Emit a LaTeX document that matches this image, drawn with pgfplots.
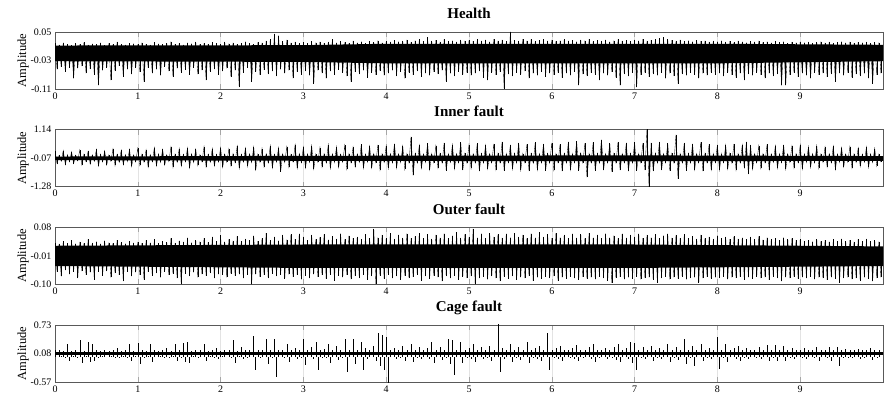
\documentclass[border=0pt]{standalone}
\usepackage{fontspec}
\setmainfont{Liberation Serif}
\usepackage{pgfplots}
\usepackage{pgfplotstable}
\pgfplotsset{compat=1.18}

\pgfplotstableread[header=false,row sep=\\]{
0.018\\-0.055\\0.014\\-0.048\\0.02\\-0.062\\0.016\\-0.05\\0.013\\-0.08\\0.019\\-0.052\\0.015\\-0.046\\0.021\\-0.066\\0.014\\-0.054\\0.017\\-0.07\\0.016\\-0.1\\0.02\\-0.058\\0.013\\-0.05\\0.018\\-0.085\\0.015\\-0.06\\0.022\\-0.045\\0.016\\-0.075\\0.014\\-0.055\\0.019\\-0.068\\0.017\\-0.05\\
0.015\\-0.062\\0.02\\-0.09\\0.016\\-0.05\\0.014\\-0.066\\0.021\\-0.055\\0.017\\-0.072\\0.015\\-0.048\\0.019\\-0.06\\0.023\\-0.075\\0.016\\-0.052\\0.018\\-0.064\\0.014\\-0.056\\0.02\\-0.07\\0.017\\-0.05\\0.022\\-0.068\\0.015\\-0.058\\0.019\\-0.085\\0.016\\-0.062\\0.021\\-0.054\\0.018\\-0.07\\
0.016\\-0.06\\0.022\\-0.052\\0.017\\-0.075\\0.02\\-0.058\\0.015\\-0.105\\0.019\\-0.064\\0.023\\-0.05\\0.018\\-0.09\\0.016\\-0.062\\0.021\\-0.07\\0.02\\-0.056\\0.025\\-0.068\\0.03\\-0.06\\0.045\\-0.074\\0.04\\-0.055\\0.024\\-0.066\\0.028\\-0.058\\0.02\\-0.08\\0.022\\-0.062\\0.019\\-0.07\\
0.021\\-0.06\\0.018\\-0.072\\0.024\\-0.095\\0.02\\-0.058\\0.023\\-0.066\\0.019\\-0.08\\0.022\\-0.06\\0.03\\-0.07\\0.02\\-0.056\\0.024\\-0.064\\0.021\\-0.074\\0.018\\-0.09\\0.025\\-0.062\\0.02\\-0.068\\0.023\\-0.058\\0.019\\-0.078\\0.024\\-0.064\\0.021\\-0.07\\0.026\\-0.06\\0.02\\-0.072\\
0.024\\-0.066\\0.022\\-0.058\\0.027\\-0.074\\0.023\\-0.062\\0.025\\-0.08\\0.028\\-0.064\\0.022\\-0.07\\0.026\\-0.06\\0.03\\-0.076\\0.024\\-0.066\\0.035\\-0.072\\0.025\\-0.062\\0.027\\-0.068\\0.023\\-0.058\\0.029\\-0.09\\0.024\\-0.066\\0.026\\-0.074\\0.022\\-0.062\\0.028\\-0.07\\0.025\\-0.064\\
0.027\\-0.072\\0.024\\-0.066\\0.029\\-0.06\\0.025\\-0.078\\0.028\\-0.085\\0.023\\-0.064\\0.03\\-0.07\\0.026\\-0.062\\0.028\\-0.11\\0.024\\-0.068\\0.05\\-0.074\\0.027\\-0.064\\0.025\\-0.07\\0.03\\-0.06\\0.026\\-0.08\\0.029\\-0.066\\0.024\\-0.072\\0.027\\-0.062\\0.03\\-0.076\\0.025\\-0.066\\
0.028\\-0.07\\0.024\\-0.064\\0.026\\-0.078\\0.029\\-0.066\\0.025\\-0.072\\0.027\\-0.062\\0.023\\-0.1\\0.028\\-0.068\\0.026\\-0.074\\0.03\\-0.064\\0.024\\-0.07\\0.027\\-0.085\\0.025\\-0.066\\0.028\\-0.072\\0.023\\-0.062\\0.026\\-0.078\\0.029\\-0.1\\0.025\\-0.068\\0.027\\-0.074\\0.024\\-0.064\\
0.028\\-0.105\\0.026\\-0.07\\0.03\\-0.064\\0.025\\-0.076\\0.027\\-0.068\\0.029\\-0.072\\0.032\\-0.064\\0.035\\-0.08\\0.03\\-0.066\\0.027\\-0.074\\0.025\\-0.095\\0.028\\-0.068\\0.024\\-0.072\\0.026\\-0.064\\0.023\\-0.07\\0.027\\-0.08\\0.024\\-0.066\\0.026\\-0.072\\0.022\\-0.064\\0.025\\-0.07\\
0.023\\-0.066\\0.026\\-0.074\\0.022\\-0.064\\0.024\\-0.07\\0.021\\-0.078\\0.025\\-0.066\\0.023\\-0.085\\0.02\\-0.068\\0.024\\-0.072\\0.022\\-0.064\\0.025\\-0.07\\0.021\\-0.08\\0.023\\-0.066\\0.02\\-0.074\\0.024\\-0.068\\0.021\\-0.1\\0.023\\-0.1\\0.019\\-0.07\\0.022\\-0.064\\0.02\\-0.076\\
0.023\\-0.066\\0.02\\-0.072\\0.022\\-0.08\\0.019\\-0.064\\0.021\\-0.07\\0.023\\-0.066\\0.02\\-0.076\\0.022\\-0.068\\0.019\\-0.09\\0.021\\-0.066\\0.023\\-0.072\\0.02\\-0.064\\0.022\\-0.078\\0.019\\-0.068\\0.021\\-0.074\\0.02\\-0.066\\0.022\\-0.08\\0.019\\-0.095\\0.021\\-0.07\\0.02\\-0.066\\
}\health

\pgfplotstableread[header=false,row sep=\\]{
0.22\\-0.3\\0.05\\-0.2\\0.25\\-0.34\\0.08\\-0.22\\0.2\\-0.3\\0.06\\-0.18\\0.28\\-0.36\\0.1\\-0.22\\0.22\\-0.32\\0.07\\-0.2\\0.3\\-0.4\\0.09\\-0.23\\0.24\\-0.35\\0.06\\-0.2\\0.32\\-0.38\\0.1\\-0.24\\0.26\\-0.34\\0.08\\-0.21\\0.3\\-0.42\\0.07\\-0.22\\
0.35\\-0.38\\0.1\\-0.24\\0.28\\-0.45\\0.08\\-0.22\\0.38\\-0.4\\0.11\\-0.25\\0.3\\-0.36\\0.07\\-0.21\\0.4\\-0.46\\0.1\\-0.24\\0.33\\-0.4\\0.09\\-0.22\\0.36\\-0.48\\0.11\\-0.25\\0.3\\-0.38\\0.08\\-0.22\\0.42\\-0.44\\0.1\\-0.24\\0.34\\-0.4\\0.09\\-0.23\\
0.38\\-0.46\\0.1\\-0.24\\0.32\\-0.4\\0.12\\-0.26\\0.44\\-0.5\\0.09\\-0.23\\0.36\\-0.42\\0.11\\-0.25\\0.4\\-0.55\\0.1\\-0.24\\0.34\\-0.44\\0.12\\-0.26\\0.46\\-0.48\\0.1\\-0.24\\0.38\\-0.65\\0.11\\-0.25\\0.42\\-0.46\\0.09\\-0.23\\0.5\\-0.5\\0.12\\-0.26\\
0.4\\-0.48\\0.11\\-0.25\\0.46\\-0.52\\0.1\\-0.24\\0.38\\-0.44\\0.12\\-0.26\\0.5\\-0.5\\0.11\\-0.25\\0.42\\-0.46\\0.1\\-0.24\\0.48\\-0.54\\0.12\\-0.26\\0.4\\-0.44\\0.11\\-0.25\\0.52\\-0.5\\0.1\\-0.24\\0.44\\-0.48\\0.12\\-0.26\\0.5\\-0.56\\0.11\\-0.25\\
0.46\\-0.5\\0.12\\-0.26\\0.55\\-0.48\\0.11\\-0.25\\0.44\\-0.54\\0.12\\-0.26\\0.85\\-0.8\\0.13\\-0.27\\0.48\\-0.5\\0.11\\-0.25\\0.56\\-0.56\\0.12\\-0.26\\0.46\\-0.48\\0.13\\-0.27\\0.58\\-0.6\\0.11\\-0.25\\0.5\\-0.52\\0.12\\-0.26\\0.6\\-0.58\\0.13\\-0.27\\
0.5\\-0.5\\0.12\\-0.26\\0.56\\-0.62\\0.13\\-0.27\\0.48\\-0.52\\0.12\\-0.26\\0.54\\-0.56\\0.13\\-0.27\\0.62\\-0.6\\0.12\\-0.26\\0.5\\-0.54\\0.13\\-0.27\\0.58\\-0.58\\0.12\\-0.26\\0.52\\-0.62\\0.13\\-0.27\\0.6\\-0.56\\0.12\\-0.26\\0.54\\-0.6\\0.13\\-0.27\\
0.58\\-0.58\\0.12\\-0.26\\0.52\\-0.62\\0.13\\-0.27\\0.62\\-0.56\\0.12\\-0.26\\0.64\\-0.6\\0.13\\-0.27\\0.56\\-0.88\\0.12\\-0.26\\0.6\\-0.6\\0.13\\-0.27\\0.72\\-0.58\\0.12\\-0.26\\0.56\\-0.64\\0.13\\-0.27\\0.62\\-0.58\\0.12\\-0.26\\0.58\\-0.62\\0.13\\-0.27\\
0.6\\-0.6\\0.12\\-0.26\\0.56\\-0.58\\1.2\\-1.35\\0.58\\-0.62\\0.13\\-0.27\\0.62\\-0.58\\0.12\\-0.26\\0.56\\-0.6\\0.13\\-0.27\\0.93\\-0.95\\0.12\\-0.26\\0.58\\-0.6\\0.13\\-0.27\\0.54\\-0.56\\0.12\\-0.26\\0.6\\-0.62\\0.13\\-0.27\\0.52\\-0.56\\0.12\\-0.26\\
0.5\\-0.58\\0.12\\-0.26\\0.48\\-0.52\\0.13\\-0.27\\0.54\\-0.56\\0.12\\-0.26\\0.48\\-0.5\\0.62\\-0.75\\0.5\\-0.54\\0.12\\-0.26\\0.46\\-0.5\\0.12\\-0.26\\0.52\\-0.56\\0.11\\-0.25\\0.46\\-0.5\\0.12\\-0.26\\0.5\\-0.54\\0.11\\-0.25\\0.44\\-0.48\\0.12\\-0.26\\
0.48\\-0.52\\0.11\\-0.25\\0.42\\-0.46\\0.12\\-0.26\\0.46\\-0.5\\0.11\\-0.25\\0.4\\-0.44\\0.12\\-0.26\\0.44\\-0.55\\0.11\\-0.25\\0.38\\-0.44\\0.1\\-0.24\\0.42\\-0.48\\0.11\\-0.25\\0.36\\-0.42\\0.1\\-0.24\\0.4\\-0.46\\0.11\\-0.25\\0.34\\-0.4\\0.1\\-0.24\\
}\inner

\pgfplotstableread[header=false,row sep=\\]{
0.032\\-0.06\\0.028\\-0.075\\0.036\\-0.055\\0.03\\-0.068\\0.04\\-0.06\\0.029\\-0.08\\0.034\\-0.058\\0.03\\-0.07\\0.042\\-0.062\\0.031\\-0.085\\0.035\\-0.06\\0.029\\-0.072\\0.038\\-0.058\\0.032\\-0.078\\0.03\\-0.064\\0.04\\-0.07\\0.033\\-0.09\\0.029\\-0.06\\0.037\\-0.074\\0.031\\-0.062\\
0.034\\-0.07\\0.03\\-0.085\\0.039\\-0.06\\0.032\\-0.072\\0.042\\-0.064\\0.03\\-0.078\\0.036\\-0.06\\0.033\\-0.07\\0.045\\-0.066\\0.031\\-0.08\\0.038\\-0.1\\0.034\\-0.066\\0.048\\-0.074\\0.032\\-0.062\\0.04\\-0.078\\0.035\\-0.068\\0.046\\-0.072\\0.033\\-0.064\\0.05\\-0.08\\0.036\\-0.068\\
0.055\\-0.07\\0.035\\-0.078\\0.042\\-0.066\\0.038\\-0.072\\0.052\\-0.068\\0.036\\-0.08\\0.044\\-0.07\\0.04\\-0.1\\0.054\\-0.068\\0.037\\-0.076\\0.045\\-0.07\\0.062\\-0.08\\0.04\\-0.066\\0.05\\-0.074\\0.038\\-0.07\\0.056\\-0.082\\0.041\\-0.068\\0.058\\-0.076\\0.043\\-0.07\\0.06\\-0.084\\
0.05\\-0.072\\0.04\\-0.08\\0.056\\-0.068\\0.042\\-0.076\\0.05\\-0.07\\0.058\\-0.082\\0.041\\-0.07\\0.052\\-0.088\\0.044\\-0.072\\0.06\\-0.078\\0.042\\-0.07\\0.054\\-0.084\\0.046\\-0.072\\0.05\\-0.08\\0.043\\-0.07\\0.058\\-0.086\\0.045\\-0.074\\0.075\\-0.098\\0.048\\-0.072\\0.056\\-0.082\\
0.046\\-0.07\\0.062\\-0.08\\0.044\\-0.074\\0.056\\-0.086\\0.047\\-0.072\\0.06\\-0.08\\0.045\\-0.076\\0.052\\-0.07\\0.062\\-0.088\\0.046\\-0.074\\0.058\\-0.082\\0.044\\-0.072\\0.056\\-0.078\\0.048\\-0.09\\0.06\\-0.074\\0.046\\-0.08\\0.054\\-0.072\\0.064\\-0.086\\0.047\\-0.076\\0.058\\-0.08\\
0.05\\-0.074\\0.075\\-0.1\\0.048\\-0.08\\0.06\\-0.076\\0.046\\-0.084\\0.062\\-0.074\\0.05\\-0.08\\0.058\\-0.09\\0.047\\-0.076\\0.06\\-0.082\\0.048\\-0.074\\0.062\\-0.086\\0.05\\-0.078\\0.056\\-0.08\\0.046\\-0.074\\0.06\\-0.088\\0.048\\-0.078\\0.064\\-0.082\\0.05\\-0.076\\0.058\\-0.08\\
0.046\\-0.074\\0.062\\-0.088\\0.048\\-0.078\\0.056\\-0.082\\0.045\\-0.076\\0.06\\-0.08\\0.047\\-0.086\\0.058\\-0.076\\0.045\\-0.082\\0.062\\-0.078\\0.048\\-0.084\\0.056\\-0.076\\0.046\\-0.08\\0.06\\-0.088\\0.048\\-0.095\\0.054\\-0.08\\0.045\\-0.076\\0.06\\-0.084\\0.047\\-0.078\\0.056\\-0.082\\
0.05\\-0.076\\0.06\\-0.084\\0.046\\-0.08\\0.056\\-0.078\\0.048\\-0.086\\0.058\\-0.095\\0.046\\-0.08\\0.054\\-0.076\\0.06\\-0.084\\0.047\\-0.078\\0.056\\-0.082\\0.045\\-0.076\\0.058\\-0.084\\0.046\\-0.08\\0.052\\-0.078\\0.044\\-0.095\\0.056\\-0.08\\0.046\\-0.076\\0.05\\-0.082\\0.044\\-0.078\\
0.054\\-0.08\\0.045\\-0.076\\0.05\\-0.084\\0.043\\-0.078\\0.052\\-0.08\\0.044\\-0.076\\0.048\\-0.086\\0.042\\-0.078\\0.05\\-0.082\\0.043\\-0.076\\0.052\\-0.08\\0.041\\-0.078\\0.048\\-0.086\\0.042\\-0.076\\0.046\\-0.08\\0.04\\-0.09\\0.048\\-0.078\\0.042\\-0.08\\0.045\\-0.076\\0.04\\-0.082\\
0.042\\-0.078\\0.036\\-0.08\\0.04\\-0.076\\0.035\\-0.084\\0.042\\-0.078\\0.036\\-0.08\\0.04\\-0.086\\0.035\\-0.078\\0.042\\-0.082\\0.037\\-0.095\\0.044\\-0.08\\0.036\\-0.078\\0.04\\-0.084\\0.035\\-0.08\\0.042\\-0.088\\0.036\\-0.078\\0.044\\-0.082\\0.037\\-0.09\\0.04\\-0.08\\0.035\\-0.078\\
}\outer

\pgfplotstableread[header=false,row sep=\\]{
0.16\\0.0\\0.15\\0.02\\0.14\\0.01\\0.29\\-0.1\\0.14\\0.02\\0.15\\0.01\\0.38\\-0.14\\0.14\\0.02\\0.34\\-0.12\\0.3\\-0.08\\0.15\\0.01\\0.14\\0.02\\0.16\\0.0\\0.14\\0.02\\0.15\\0.01\\0.2\\-0.02\\0.14\\0.02\\0.15\\0.01\\0.3\\-0.1\\0.14\\0.02\\
0.33\\-0.15\\0.15\\0.01\\0.14\\0.02\\0.3\\-0.12\\0.16\\0.0\\0.14\\0.02\\0.15\\0.01\\0.2\\-0.02\\0.14\\0.02\\0.3\\-0.1\\0.15\\0.01\\0.32\\-0.12\\0.35\\-0.14\\0.14\\0.02\\0.15\\0.01\\0.16\\0.0\\0.29\\-0.1\\0.14\\0.02\\0.15\\0.01\\0.2\\-0.04\\
0.14\\0.02\\0.16\\0.0\\0.15\\0.01\\0.38\\-0.14\\0.14\\0.02\\0.22\\-0.04\\0.15\\0.01\\0.16\\0.0\\0.47\\-0.3\\0.15\\0.01\\0.17\\0.0\\0.41\\-0.16\\0.15\\0.01\\0.41\\-0.45\\0.16\\0.0\\0.15\\0.01\\0.3\\-0.12\\0.16\\0.0\\0.2\\-0.04\\0.15\\0.01\\
0.4\\-0.18\\0.16\\0.0\\0.22\\-0.05\\0.35\\-0.3\\0.15\\0.01\\0.18\\-0.02\\0.3\\-0.14\\0.16\\0.0\\0.24\\-0.06\\0.15\\0.01\\0.4\\-0.35\\0.17\\0.0\\0.42\\-0.16\\0.16\\0.0\\0.35\\-0.3\\0.2\\-0.04\\0.16\\0.0\\0.26\\-0.08\\0.55\\-0.2\\0.5\\-0.3\\
0.45\\-0.62\\0.16\\0.0\\0.2\\-0.04\\0.15\\0.01\\0.24\\-0.08\\0.16\\0.0\\0.3\\-0.12\\0.15\\0.01\\0.22\\-0.05\\0.16\\0.0\\0.2\\-0.04\\0.35\\-0.14\\0.16\\0.0\\0.22\\-0.06\\0.15\\0.01\\0.4\\-0.16\\0.38\\-0.4\\0.16\\0.0\\0.35\\-0.14\\0.15\\0.01\\
0.2\\-0.04\\0.3\\-0.12\\0.16\\0.0\\0.22\\-0.05\\0.15\\0.01\\0.26\\-0.08\\0.17\\0.0\\0.78\\-0.35\\0.2\\-0.04\\0.16\\0.0\\0.3\\-0.12\\0.15\\0.01\\0.22\\-0.06\\0.16\\0.0\\0.35\\-0.14\\0.15\\0.01\\0.2\\-0.04\\0.24\\-0.08\\0.16\\0.0\\0.55\\-0.3\\
0.15\\0.01\\0.2\\-0.04\\0.25\\-0.1\\0.16\\0.0\\0.15\\0.01\\0.2\\-0.04\\0.28\\-0.1\\0.15\\0.01\\0.16\\0.0\\0.22\\-0.05\\0.3\\-0.12\\0.15\\0.01\\0.16\\0.0\\0.2\\-0.04\\0.15\\0.01\\0.22\\-0.06\\0.3\\-0.12\\0.16\\0.0\\0.2\\-0.04\\0.35\\-0.14\\
0.32\\-0.3\\0.15\\0.01\\0.22\\-0.05\\0.16\\0.0\\0.24\\-0.08\\0.15\\0.01\\0.2\\-0.04\\0.16\\0.0\\0.3\\-0.12\\0.15\\0.01\\0.22\\-0.06\\0.16\\0.0\\0.4\\-0.16\\0.15\\0.01\\0.24\\-0.2\\0.16\\0.0\\0.3\\-0.1\\0.15\\0.01\\0.2\\-0.04\\0.16\\0.0\\
0.45\\-0.28\\0.15\\0.01\\0.3\\-0.12\\0.16\\0.0\\0.2\\-0.04\\0.25\\-0.1\\0.15\\0.01\\0.2\\-0.04\\0.16\\0.0\\0.15\\0.01\\0.22\\-0.05\\0.16\\0.0\\0.28\\-0.1\\0.15\\0.01\\0.28\\-0.1\\0.16\\0.0\\0.25\\-0.08\\0.15\\0.01\\0.2\\-0.04\\0.16\\0.0\\
0.15\\0.01\\0.2\\-0.04\\0.16\\0.0\\0.15\\0.01\\0.23\\-0.08\\0.16\\0.0\\0.15\\0.01\\0.23\\-0.08\\0.16\\0.0\\0.22\\-0.2\\0.15\\0.01\\0.18\\-0.02\\0.15\\0.01\\0.16\\0.0\\0.19\\-0.04\\0.15\\0.01\\0.16\\0.0\\0.2\\-0.06\\0.15\\0.01\\0.16\\0.0\\
}\cage

\pgfplotsset{
  sig/.style={
    scale only axis, width=828pt, height=57pt,
    xmin=0, xmax=10, xtick={0,1,...,9},
    /pgf/number format/assume math mode=true,
    tick align=inside,
    axis line style={gray!70!black, line width=0.5pt},
    major tick style={gray!70, line width=0.4pt},
    major tick length=5pt,
    xmajorgrids, grid style={gray!22, line width=0.4pt},
    tick label style={font=\fontsize{10}{12}\selectfont},
    ylabel={Amplitude},
    ylabel style={at={(axis description cs:-0.0386,0.5)}, anchor=center, rotate=0, font=\fontsize{12.5}{15}\selectfont},
    title style={at={(axis description cs:0.5,1)}, anchor=base, yshift=7pt, font=\bfseries\fontsize{15}{18}\selectfont},
    anchor=south west,
  },
  zig/.style={black, line width=0.35pt, no marks},
  comb/.style={black, line width=0.6pt, ycomb, no marks},
  core/.style={fill=black, draw=none, no marks},
}

\begin{document}
\begin{tikzpicture}
\useasboundingbox (0,0) rectangle (888pt,396pt);

\begin{axis}[sig, at={(55pt,307pt)}, title={Health},
  ymin=-0.11, ymax=0.05, ytick={-0.11,-0.03,0.05}, yticklabels={-0.11,-0.03,0.05}]
\addplot[core] coordinates {(0,0.012) (3,0.013) (4,0.017) (8,0.017) (10,0.014) (10,-0.032) (8,-0.038) (4,-0.038) (3,-0.034) (0,-0.032)} -- cycle;
\addplot[zig] table[x expr=\coordindex*0.025, y index=0] {\health};
\addplot[comb] table[x expr=\coordindex*0.025, y index=0] {\health};
\end{axis}

\begin{axis}[sig, at={(55pt,209.3pt)}, title={Inner fault},
  ymin=-1.28, ymax=1.14, ytick={-1.28,-0.07,1.14}, yticklabels={-1.28,-0.07,1.14}]
\addplot[core] coordinates {(0,0.0) (3,0.03) (7,0.05) (10,0.02) (10,-0.18) (7,-0.2) (3,-0.18) (0,-0.15)} -- cycle;
\addplot[zig] table[x expr=\coordindex*0.025, y index=0] {\inner};
\addplot[comb] table[x expr=\coordindex*0.025, y index=0] {\inner};
\end{axis}

\begin{axis}[sig, at={(55pt,111.6pt)}, title={Outer fault},
  ymin=-0.10, ymax=0.08, ytick={-0.10,-0.01,0.08}, yticklabels={-0.10,-0.01,0.08}]
\addplot[core] coordinates {(0,0.022) (3,0.026) (7,0.026) (10,0.02) (10,-0.042) (7,-0.048) (3,-0.048) (0,-0.042)} -- cycle;
\addplot[zig] table[x expr=\coordindex*0.025, y index=0] {\outer};
\addplot[comb] table[x expr=\coordindex*0.025, y index=0] {\outer};
\end{axis}

\begin{axis}[sig, at={(55pt,14pt)}, title={Cage fault},
  ymin=-0.57, ymax=0.73, ytick={-0.57,0.08,0.73}, yticklabels={-0.57,0.08,0.73}]
\addplot[core] coordinates {(0,0.12) (10,0.12) (10,0.04) (0,0.04)} -- cycle;
\addplot[comb] table[x expr=\coordindex*0.025, y index=0] {\cage};
\end{axis}
\end{tikzpicture}
\end{document}
